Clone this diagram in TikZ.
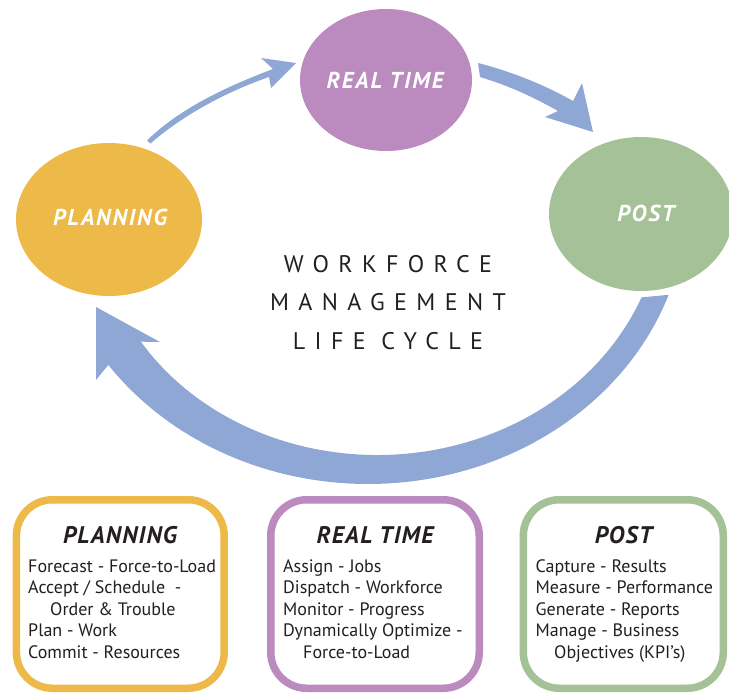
\documentclass[tikz,border=0pt]{standalone}
\usepackage{fontspec}
\setmainfont{PT Sans}
\newfontfamily\spacedfont[LetterSpace=39]{PT Sans}
\newfontfamily\ovalfont[LetterSpace=8]{PT Sans}
\newfontfamily\headfont[LetterSpace=5]{PT Sans}
\usetikzlibrary{shapes.geometric}

\definecolor{planc}{RGB}{237,185,72}
\definecolor{realc}{RGB}{187,138,190}
\definecolor{postc}{RGB}{165,193,151}
\definecolor{flowc}{RGB}{143,167,213}
\definecolor{inkc}{RGB}{35,31,32}

\tikzset{
  phase/.style={ellipse, inner sep=0pt, draw=none},
  phaselabel/.style={anchor=base, inner sep=0pt, text=white,
    font=\ovalfont\bfseries\itshape\fontsize{23}{27}\selectfont},
  panel/.style={draw=#1, line width=7.5, rounded corners=36, fill=white,
    inner sep=0pt},
  panelhead/.style={anchor=base, inner sep=0pt, text=inkc,
    font=\headfont\bfseries\itshape\fontsize{24}{28}\selectfont},
  item/.style={anchor=base west, inner sep=0pt, text=inkc,
    font=\fontsize{18}{21}\selectfont},
  titleline/.style={anchor=base, inner sep=0pt, text=inkc,
    font=\spacedfont\fontsize{24}{28}\selectfont},
  flow/.style={fill=flowc, draw=none}
}

\begin{document}
\begin{tikzpicture}[x=1pt,y=-1pt]
\useasboundingbox (0,0) rectangle (729,694);

% the three phases of the cycle
\node[phase, fill=planc, minimum width=186, minimum height=153] (plan) at (109,219.5) {};
\node[phase, fill=realc, minimum width=172, minimum height=142] (real) at (386,80) {};
\node[phase, fill=postc, minimum width=184, minimum height=154] (post) at (641,214) {};

\node[phaselabel] (planlbl) at (110,225) {PLANNING};
\node[phaselabel] (reallbl) at (385,88) {REAL TIME};
\node[phaselabel] (postlbl) at (646,221) {POST};

% planning -> real time
\coordinate (f1tip) at (296,63);
\fill[flow] (147,140.5) .. controls (180,108) and (228,86) .. (273,69)
  -- (261,58) -- (f1tip) -- (271,88) -- (269,77)
  .. controls (226,92) and (183,115) .. (150.5,143.5) -- cycle;

% real time -> post
\coordinate (f2tip) at (593,132);
\fill[flow] (478,63) .. controls (510,71) and (545,85) .. (573,101)
  -- (582,83) -- (f2tip) -- (545,117) -- (558,111)
  .. controls (535,98) and (510,86) .. (480,77) -- cycle;

% post -> planning, the wide return sweep
\coordinate (f3tip) at (96,307);
\fill[flow] plot[domain=19.5:144.5, samples=80]
    ({368+319*cos(\x)},{200+284*sin(\x)})
  -- (96,380) -- (f3tip) -- (160,342)
  -- plot[domain=144.5:22, samples=80]
    ({368+(319-(24+16*((\x-19.5)/125)^2))*cos(\x)},
     {200+(284-(24+16*((\x-19.5)/125)^2))*sin(\x)})
  -- cycle;

% centre title
\node[titleline] (t1) at (388,272) {WORKFORCE};
\node[titleline] (t2) at (388,310.7) {MANAGEMENT};
\node[titleline] (t3) at (388,349.3) {LIFE CYCLE};

% detail panels
\node[panel=planc, minimum width=207.8, minimum height=188.5] (box1) at (120.3,594) {};
\node[panel=realc, minimum width=208.5, minimum height=188.5] (box2) at (375,594) {};
\node[panel=postc, minimum width=200, minimum height=188.5] (box3) at (623.3,594) {};

\node[panelhead] (h1) at (120,543) {PLANNING};
\node[panelhead] (h2) at (375,543) {REAL TIME};
\node[panelhead] (h3) at (623.5,543) {POST};

\node[item] (p1) at (28,572) {Forecast - Force-to-Load};
\node[item] (p2) at (28,593.5) {Accept / Schedule \ -};
\node[item] (p3) at (50,615) {Order \&\ Trouble};
\node[item] (p4) at (28,636.5) {Plan - Work};
\node[item] (p5) at (28,658) {Commit - Resources};

\node[item] (r1) at (283,572) {Assign - Jobs};
\node[item] (r2) at (283,593.5) {Dispatch - Workforce};
\node[item] (r3) at (283,615) {Monitor - Progress};
\node[item] (r4) at (283,636.5) {Dynamically Optimize -};
\node[item] (r5) at (303,658) {Force-to-Load};

\node[item] (s1) at (535.5,572) {Capture - Results};
\node[item] (s2) at (535.5,593.5) {Measure - Performance};
\node[item] (s3) at (535.5,615) {Generate - Reports};
\node[item] (s4) at (535.5,636.5) {Manage - Business};
\node[item] (s5) at (554,658) {Objectives (KPI’s)};
\end{tikzpicture}
\end{document}
